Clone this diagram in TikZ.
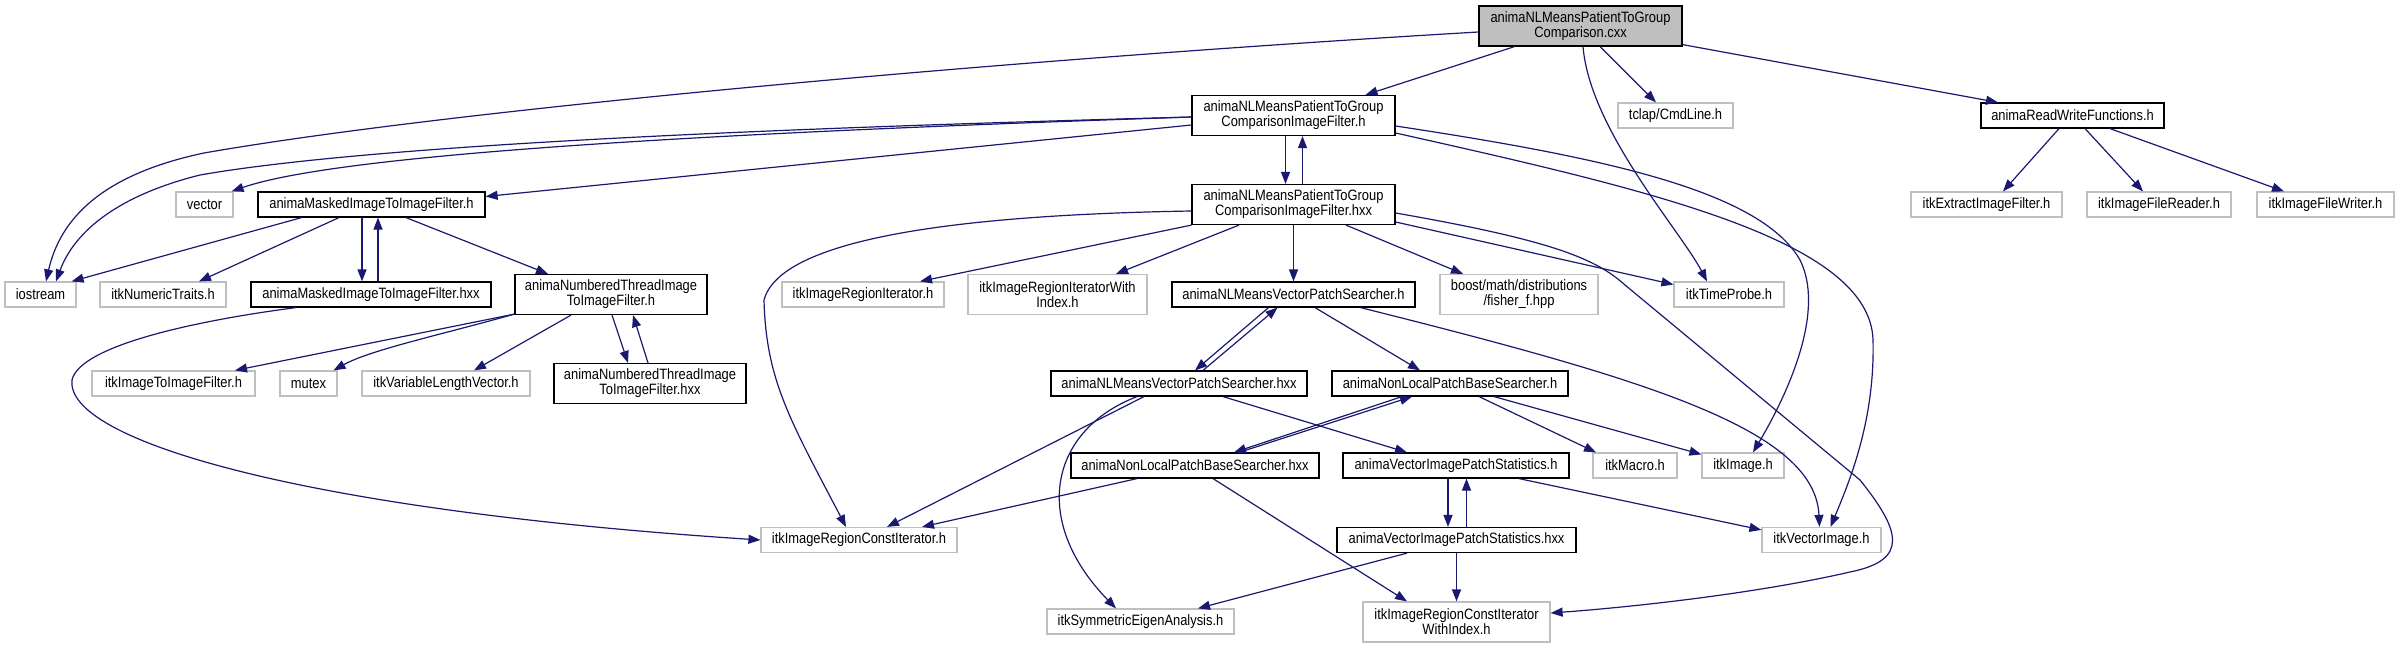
\documentclass[tikz,border=0pt]{standalone}
\usepackage{fontspec}
\setmainfont{Liberation Sans}[FakeStretch=0.86]
\usetikzlibrary{arrows.meta,calc}
\definecolor{edgeblue}{HTML}{191970}
\definecolor{grayb}{HTML}{BFBFBF}
\begin{document}
\begin{tikzpicture}[x=0.5pt,y=-0.5pt,
  box/.style={draw, line width=0.6pt, inner sep=0pt, align=center, font=\fontsize{7.5}{7.4}\selectfont, minimum height=12.5pt},
  ext/.style={box, draw=grayb},
  doc/.style={box, draw=black},
  two/.style={minimum height=20pt},
  arr/.style={draw=edgeblue, line width=0.6pt, -{Triangle[length=6pt,width=4.5pt]}}]
\useasboundingbox (0,0) rectangle (2396,648);
% nodes
\node[doc, two, fill=grayb, minimum width=101.5pt] (C) at (1580.5,26) {animaNLMeansPatientToGroup\\Comparison.cxx};
\node[doc, two, minimum width=101.5pt] (H) at (1293.5,115.5) {animaNLMeansPatientToGroup\\ComparisonImageFilter.h};
\node[ext, minimum width=57.5pt] (tclap) at (1675.5,115.5) {tclap/CmdLine.h};
\node[doc, minimum width=91.5pt] (RW) at (2072.5,115.5) {animaReadWriteFunctions.h};
\node[ext, minimum width=28.5pt] (vector) at (204.5,204.5) {vector};
\node[doc, minimum width=113.5pt] (M) at (371.5,204.5) {animaMaskedImageToImageFilter.h};
\node[doc, two, minimum width=101.5pt] (HX) at (1293.5,204.5) {animaNLMeansPatientToGroup\\ComparisonImageFilter.hxx};
\node[ext, minimum width=75.5pt] (Extract) at (1986.5,204.5) {itkExtractImageFilter.h};
\node[ext, minimum width=72pt] (Reader) at (2159,204.5) {itkImageFileReader.h};
\node[ext, minimum width=68.5pt] (Writer) at (2325.5,204.5) {itkImageFileWriter.h};
\node[ext, minimum width=35.5pt] (iostream) at (40.5,294.5) {iostream};
\node[ext, minimum width=63pt] (NumTraits) at (163,294.5) {itkNumericTraits.h};
\node[doc, minimum width=120pt] (MX) at (371,294.5) {animaMaskedImageToImageFilter.hxx};
\node[doc, two, minimum width=96pt] (N) at (611,294.5) {animaNumberedThreadImage\\ToImageFilter.h};
\node[ext, minimum width=81pt] (RegIt) at (863,294.5) {itkImageRegionIterator.h};
\node[ext, two, minimum width=89.5pt] (RegItWI) at (1057.5,294.5) {itkImageRegionIteratorWith\\Index.h};
\node[doc, minimum width=121.5pt] (VS) at (1293.5,294.5) {animaNLMeansVectorPatchSearcher.h};
\node[ext, two, minimum width=79pt] (boost) at (1519,294.5) {boost/math/distributions\\/fisher\_f.hpp};
\node[ext, minimum width=55pt] (TimeProbe) at (1729,294.5) {itkTimeProbe.h};
\node[ext, minimum width=81.5pt] (ITIF) at (173.5,383.5) {itkImageToImageFilter.h};
\node[ext, minimum width=28.5pt] (mutex) at (308.5,383.5) {mutex};
\node[ext, minimum width=84pt] (VLV) at (446,383.5) {itkVariableLengthVector.h};
\node[doc, two, minimum width=96pt] (NX) at (650,383.5) {animaNumberedThreadImage\\ToImageFilter.hxx};
\node[doc, minimum width=128pt] (VSX) at (1179,383.5) {animaNLMeansVectorPatchSearcher.hxx};
\node[doc, minimum width=118pt] (NL) at (1450,383.5) {animaNonLocalPatchBaseSearcher.h};
\node[doc, minimum width=124pt] (NLX) at (1195,465.5) {animaNonLocalPatchBaseSearcher.hxx};
\node[doc, minimum width=113pt] (VIPS) at (1456,465.5) {animaVectorImagePatchStatistics.h};
\node[ext, minimum width=42pt] (Macro) at (1635,465.5) {itkMacro.h};
\node[ext, minimum width=41pt] (Image) at (1743,465.5) {itkImage.h};
\node[ext, minimum width=98pt] (RCI) at (859,540) {itkImageRegionConstIterator.h};
\node[doc, minimum width=119.5pt] (VIPSX) at (1456.5,540) {animaVectorImagePatchStatistics.hxx};
\node[ext, minimum width=59.5pt] (VecImg) at (1821.5,540) {itkVectorImage.h};
\node[ext, minimum width=93.5pt] (SEA) at (1140.5,621.5) {itkSymmetricEigenAnalysis.h};
\node[ext, two, minimum width=93.5pt] (RCIWI) at (1456.5,622) {itkImageRegionConstIterator\\WithIndex.h};
% edges from cxx
\draw[arr] ($(C.west)+(0,6)$) .. controls (1000,60) and (450,110) .. (204,153) .. controls (100,175) and (60,220) .. ($(iostream.north)+(5.5,0)$);
\draw[arr] ($(C.south)+(-66,0)$) -- ($(H.north)+(72,0)$);
\draw[arr] ($(C.south)+(19.5,0)$) -- ($(tclap.north)+(-19.5,0)$);
\draw[arr] ($(C.south east)+(0,-2)$) -- ($(RW.north)+(-74.5,0)$);
\draw[arr] ($(C.south)+(2.5,0)$) .. controls (1590,130) and (1680,230) .. ($(TimeProbe.north)+(-22,0)$);
% edges from H
\draw[arr] ($(H.west)+(0,1.5)$) .. controls (900,125) and (400,140) .. (200,175) .. controls (120,195) and (75,230) .. ($(iostream.north)+(15.5,0)$);
\draw[arr] ($(H.west)+(0,1.5)$) .. controls (800,130) and (350,150) .. ($(vector.north east)+(-2,0)$);
\draw[arr] ($(H.west)+(0,9.5)$) -- ($(M.east)+(0,-8)$);
\draw[arr] ($(H.south)+(-8,0)$) -- ($(HX.north)+(-8,0)$);
\draw[arr] ($(HX.north)+(9,0)$) -- ($(H.south)+(9,0)$);
\draw[arr] ($(H.east)+(0,10.5)$) .. controls (1600,157) and (1760,190) .. (1800,260) .. controls (1825,310) and (1790,390) .. ($(Image.north)+(10,0)$);
\draw[arr] ($(H.east)+(0,17.5)$) .. controls (1650,190) and (1870,240) .. (1873,340) .. controls (1875,420) and (1850,480) .. ($(VecImg.north)+(9,0)$);
% edges from ReadWrite
\draw[arr] ($(RW.south)+(-13.5,0)$) -- ($(Extract.north)+(16.5,0)$);
\draw[arr] ($(RW.south)+(12.5,0)$) -- ($(Reader.north)+(-16,0)$);
\draw[arr] ($(RW.south)+(37.5,0)$) -- ($(Writer.north)+(-41.5,0)$);
% edges from Masked.h
\draw[arr] ($(M.south)+(-70,0)$) -- ($(iostream.north east)+(-5,0)$);
\draw[arr] ($(M.south)+(-32.5,0)$) -- ($(NumTraits.north)+(36,0)$);
\draw[arr] ($(M.south)+(-9.5,0)$) -- ($(MX.north)+(-9,0)$);
\draw[arr] ($(MX.north)+(7,0)$) -- ($(M.south)+(6.5,0)$);
\draw[arr] ($(M.south)+(34.5,0)$) -- ($(N.north)+(-63,0)$);
\draw[arr] ($(MX.south)+(-75,0)$) .. controls (200,320) and (80,345) .. (72,380) .. controls (65,440) and (300,510) .. (RCI.west);
% edges from Numbered
\draw[arr] ($(N.south west)+(0,-1)$) -- ($(ITIF.north)+(61.5,0)$);
\draw[arr] ($(N.south west)+(0,-1)$) .. controls (440,335) and (370,350) .. ($(mutex.north)+(25,0)$);
\draw[arr] ($(N.south)+(-40,0)$) -- ($(VLV.north)+(28,0)$);
\draw[arr] ($(N.south)+(1,0)$) -- ($(NX.north)+(-22,0)$);
\draw[arr] ($(NX.north)+(-2,0)$) -- ($(N.south)+(22,0)$);
% edges from HX
\draw[arr] (HX.south west) -- ($(RegIt.north)+(57,0)$);
\draw[arr] ($(HX.south)+(-54.5,0)$) -- ($(RegItWI.north)+(58.5,0)$);
\draw[arr] (HX.south) -- (VS.north);
\draw[arr] ($(HX.south)+(52.5,0)$) -- ($(boost.north)+(-56,0)$);
\draw[arr] ($(HX.east)+(0,17.5)$) -- ($(TimeProbe.west)+(0,-10)$);
\draw[arr] ($(HX.west)+(0,6.5)$) .. controls (950,215) and (780,240) .. (764,300) .. controls (766,380) and (790,420) .. ($(RCI.north)+(-13,0)$);
\draw[arr] ($(HX.east)+(0,8.5)$) .. controls (1550,240) and (1595,258) .. (1625,285) -- (1860,480) .. controls (1900,530) and (1910,560) .. (1850,572) .. controls (1750,595) and (1620,608) .. ($(RCIWI.east)+(0,-9)$);
% edges from VS
\draw[arr] ($(VS.south)+(-25,0)$) -- ($(VSX.north)+(16,0)$);
\draw[arr] ($(VSX.north)+(24,0)$) -- ($(VS.south)+(-16,0)$);
\draw[arr] ($(VS.south)+(21.5,0)$) -- ($(NL.north)+(-30,0)$);
\draw[arr] ($(VS.south)+(67,0)$) .. controls (1650,380) and (1815,430) .. ($(VecImg.north)+(-2,0)$);
% edges from VSX
\draw[arr] ($(VSX.south)+(-35,0)$) -- ($(RCI.north)+(28,0)$);
\draw[arr] ($(VSX.south)+(-42,0)$) .. controls (1050,430) and (1030,520) .. ($(SEA.north)+(-24.5,0)$);
\draw[arr] ($(VSX.south)+(44,0)$) -- ($(VIPS.north)+(-49,0)$);
% edges from NL
\draw[arr] ($(NL.south)+(-48,0)$) -- ($(NLX.north)+(39,0)$);
\draw[arr] ($(NLX.north)+(44,0)$) -- ($(NL.south)+(-38,0)$);
\draw[arr] ($(NL.south)+(29,0)$) -- ($(Macro.north)+(-39,0)$);
\draw[arr] ($(NL.south)+(44,0)$) -- ($(Image.north west)+(0,2)$);
% edges from NLX
\draw[arr] ($(NLX.south)+(-58,0)$) -- ($(RCI.north)+(63,0)$);
\draw[arr] ($(NLX.south)+(18,0)$) -- ($(RCIWI.north)+(-49.5,0)$);
% edges from VIPS
\draw[arr] ($(VIPS.south)+(-8,0)$) -- ($(VIPSX.north)+(-8.5,0)$);
\draw[arr] ($(VIPSX.north)+(10,0)$) -- ($(VIPS.south)+(10.5,0)$);
\draw[arr] ($(VIPS.south)+(63,0)$) -- ($(VecImg.north west)+(0,3)$);
% edges from VIPSX
\draw[arr] ($(VIPSX.south)+(-49.5,0)$) -- ($(SEA.north)+(57.5,0)$);
\draw[arr] (VIPSX.south) -- (RCIWI.north);
\end{tikzpicture}
\end{document}
